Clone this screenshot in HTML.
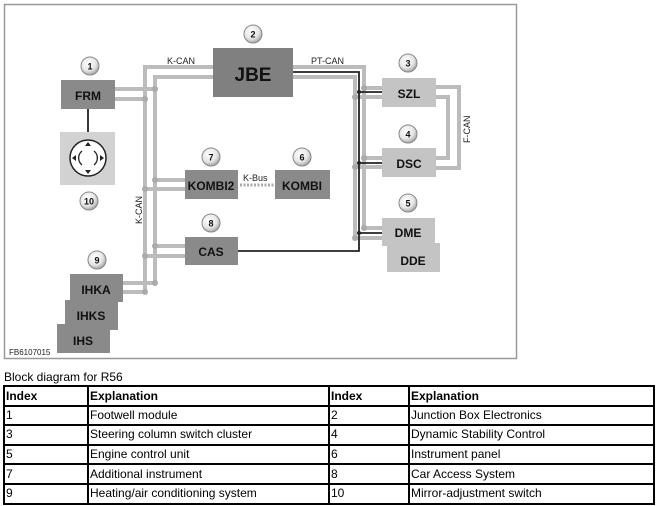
<!DOCTYPE html>
<html><head><meta charset="utf-8"><style>
body{margin:0;width:659px;height:506px;background:#fff;position:relative;font-family:"Liberation Sans",sans-serif;overflow:hidden}
svg{position:absolute;left:0;top:0}
.t{position:absolute;left:4px;top:370px;font-size:12px;color:#000}
table{position:absolute;left:3px;top:385px;width:652px;border-collapse:collapse;font-size:12px}
tr{height:19.6px}
td{border:2px solid #000;padding:0 1px;line-height:15px;white-space:nowrap}
th{border:2px solid #000;text-align:left;font-weight:bold;padding:0 1px;line-height:14px}
</style></head><body>
<svg width="659" height="506" viewBox="0 0 659 506" font-family="Liberation Sans, sans-serif">
<defs><radialGradient id="g" cx="0.4" cy="0.35" r="0.7"><stop offset="0" stop-color="#fff"/><stop offset="0.6" stop-color="#e6e6e6"/><stop offset="1" stop-color="#9a9a9a"/></radialGradient></defs>
<rect x="4.5" y="4.5" width="512" height="354" fill="#fff" stroke="#999" stroke-width="1.5"/>
<g fill="none" stroke="#bcbcbc" stroke-width="4">
<polyline points="213,67 145,67 145,292"/>
<polyline points="213,77 155,77 155,283"/>
<line x1="115" y1="89" x2="155" y2="89"/><line x1="115" y1="99" x2="145" y2="99"/>
<line x1="185" y1="180" x2="155" y2="180"/><line x1="185" y1="189" x2="145" y2="189"/>
<line x1="185" y1="246" x2="155" y2="246"/><line x1="185" y1="256" x2="145" y2="256"/>
<line x1="123" y1="283" x2="155" y2="283"/><line x1="123" y1="292" x2="145" y2="292"/>
<polyline points="293,67 364,67 364,228"/>
<polyline points="293,77 355,77 355,238"/>
<line x1="364" y1="88" x2="382" y2="88"/><line x1="355" y1="97" x2="382" y2="97"/>
<line x1="364" y1="158" x2="382" y2="158"/><line x1="355" y1="167" x2="382" y2="167"/>
<line x1="364" y1="228" x2="382" y2="228"/><line x1="355" y1="238" x2="382" y2="238"/>
<polyline points="436,87 459,87 459,168 436,168"/>
<polyline points="436,97 448,97 448,158 436,158"/>
</g>
<g fill="none" stroke="#222" stroke-width="1.8">
<polyline points="293,72 359,72 359,251 238,251"/>
<line x1="359" y1="92" x2="382" y2="92"/><line x1="359" y1="163" x2="382" y2="163"/><line x1="359" y1="233" x2="382" y2="233"/>
<line x1="88" y1="109" x2="88" y2="132"/>
</g>
<g fill="#ababab">
<circle cx="155" cy="89" r="3"/><circle cx="145" cy="99" r="3"/><circle cx="155" cy="180" r="3"/><circle cx="145" cy="189" r="3"/>
<circle cx="155" cy="246" r="3"/><circle cx="145" cy="256" r="3"/><circle cx="155" cy="283" r="3"/><circle cx="145" cy="292" r="3"/>
<circle cx="364" cy="88" r="3"/><circle cx="355" cy="97" r="3"/><circle cx="364" cy="158" r="3"/><circle cx="355" cy="167" r="3"/>
<circle cx="364" cy="228" r="3"/><circle cx="355" cy="238" r="3"/>
</g>
<g fill="#222"><circle cx="359" cy="92" r="2"/><circle cx="359" cy="163" r="2"/><circle cx="359" cy="233" r="2"/></g>
<line x1="240" y1="185" x2="274" y2="185" stroke="#aaa" stroke-width="3" stroke-dasharray="2,1.5"/>
<g fill="#8a8a8a">
<rect x="213" y="48" width="80" height="49" fill="#808080"/>
<rect x="61" y="80" width="54" height="29"/>
<rect x="185" y="170" width="53" height="29"/>
<rect x="275" y="170" width="55" height="29"/>
<rect x="185" y="237" width="53" height="28"/>
<rect x="57" y="324" width="53" height="29"/>
<rect x="65" y="300" width="53" height="30"/>
<rect x="70" y="274" width="53" height="28"/>
</g>
<g fill="#c4c4c4">
<rect x="60" y="132" width="55" height="53" fill="#d2d2d2"/>
<rect x="382" y="78" width="54" height="29"/>
<rect x="382" y="148" width="54" height="29"/>
<rect x="387" y="243" width="53" height="29"/>
<rect x="382" y="218" width="53" height="28"/>
</g>
<circle cx="88" cy="158" r="18" fill="#fff" stroke="#222" stroke-width="1.5"/>
<g fill="none" stroke="#222" stroke-width="1.3"><path d="M82,151 A9,9 0 0 0 82,165"/><path d="M94,151 A9,9 0 0 1 94,165"/></g>
<g fill="#222"><path d="M88,142 l-3,4 h6z"/><path d="M88,174 l-3,-4 h6z"/><path d="M72,158 l4,-3 v6z"/><path d="M104,158 l-4,-3 v6z"/></g>
<g font-weight="bold" fill="#111" text-anchor="middle">
<text x="253" y="81" font-size="19">JBE</text>
<text x="88" y="100" font-size="12">FRM</text>
<text x="211" y="190" font-size="12">KOMBI2</text>
<text x="302" y="190" font-size="12">KOMBI</text>
<text x="211" y="256" font-size="12">CAS</text>
<text x="96" y="294" font-size="12">IHKA</text>
<text x="91" y="320" font-size="12">IHKS</text>
<text x="83" y="345" font-size="12">IHS</text>
<text x="409" y="98" font-size="12">SZL</text>
<text x="409" y="168" font-size="12">DSC</text>
<text x="408" y="237" font-size="12">DME</text>
<text x="413" y="265" font-size="12">DDE</text>
</g>
<g font-size="9" fill="#222">
<text x="167" y="64">K-CAN</text><text x="311" y="64">PT-CAN</text>
<text x="243" y="181">K-Bus</text>
<text transform="translate(142,224) rotate(-90)">K-CAN</text>
<text transform="translate(470,143) rotate(-90)">F-CAN</text>
<text x="9" y="355" font-size="8">FB6107015</text>
</g>
<g font-size="9" font-weight="bold" text-anchor="middle" fill="#111">
<circle cx="90" cy="66" r="9" fill="url(#g)" stroke="#888"/><text x="90" y="69.5">1</text>
<circle cx="253" cy="34" r="9" fill="url(#g)" stroke="#888"/><text x="253" y="37.5">2</text>
<circle cx="408" cy="63" r="9" fill="url(#g)" stroke="#888"/><text x="408" y="66.5">3</text>
<circle cx="408" cy="134" r="9" fill="url(#g)" stroke="#888"/><text x="408" y="137.5">4</text>
<circle cx="408" cy="203" r="9" fill="url(#g)" stroke="#888"/><text x="408" y="206.5">5</text>
<circle cx="302" cy="157" r="9" fill="url(#g)" stroke="#888"/><text x="302" y="160.5">6</text>
<circle cx="211" cy="157" r="9" fill="url(#g)" stroke="#888"/><text x="211" y="160.5">7</text>
<circle cx="211" cy="223" r="9" fill="url(#g)" stroke="#888"/><text x="211" y="226.5">8</text>
<circle cx="97" cy="260" r="9" fill="url(#g)" stroke="#888"/><text x="97" y="263.5">9</text>
<circle cx="89" cy="201" r="9" fill="url(#g)" stroke="#888"/><text x="89" y="204.5">10</text>
</g>
</svg>
<div class="t">Block diagram for R56</div>
<table>
<colgroup><col style="width:84px"><col style="width:241px"><col style="width:80px"><col></colgroup>
<tr><th>Index</th><th>Explanation</th><th>Index</th><th>Explanation</th></tr>
<tr><td>1</td><td>Footwell module</td><td>2</td><td>Junction Box Electronics</td></tr>
<tr><td>3</td><td>Steering column switch cluster</td><td>4</td><td>Dynamic Stability Control</td></tr>
<tr><td>5</td><td>Engine control unit</td><td>6</td><td>Instrument panel</td></tr>
<tr><td>7</td><td>Additional instrument</td><td>8</td><td>Car Access System</td></tr>
<tr><td>9</td><td>Heating/air conditioning system</td><td>10</td><td>Mirror-adjustment switch</td></tr>
</table>
</body></html>
